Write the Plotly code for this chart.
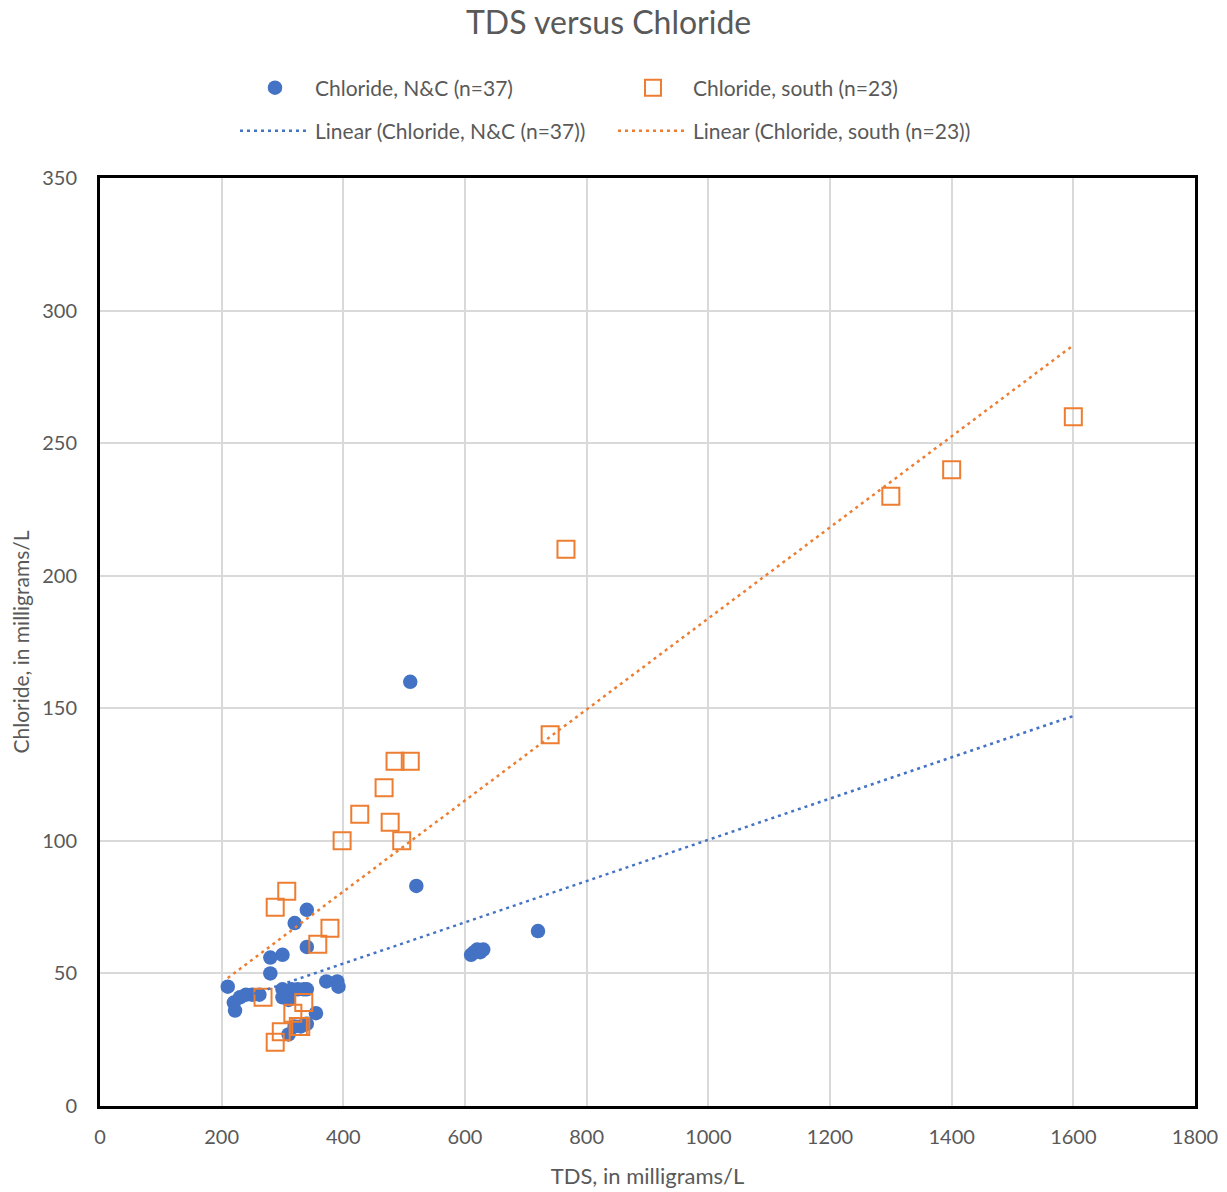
import numpy as np
import plotly.graph_objects as go

# ---- data ----
nc_tds = [510, 520, 720, 610, 615, 620, 625, 630, 340, 320, 340, 280, 300, 280,
          210, 220, 222, 230, 240, 250, 262, 372, 390, 392, 300, 305, 315, 325,
          335, 340, 310, 355, 330, 340, 310, 300, 320]
nc_cl = [160, 83, 66, 57, 58, 59, 58, 59, 74, 69, 60, 56, 57, 50,
         45, 39, 36, 41, 42, 42, 42, 47, 47, 45, 44, 42, 44, 44,
         44, 44, 40, 35, 30, 31, 27, 41, 30]

south_tds = [1600, 1400, 1300, 766, 740, 485, 510, 467, 427, 477, 398, 496,
             307, 288, 378, 358, 268, 335, 317, 326, 298, 288, 330]
south_cl = [260, 240, 230, 210, 140, 130, 130, 120, 110, 107, 100, 100,
            81, 75, 67, 61, 41, 39, 35, 30, 28, 24, 30]

# linear trendline coefficients (slope, intercept)
trend_nc = [0.0778, 22.6]
trend_south = [0.1717, 12.2]

name_nc = "Chloride, N&C (n=37)"
name_south = "Chloride, south (n=23)"
title_text = "TDS versus Chloride"
x_title = "TDS, in milligrams/L"
y_title = "Chloride, in milligrams/L"

BLUE = "#4472C4"
ORANGE = "#ED7D31"
GRAY = "#595959"
FONT = "Lato"

# trendlines drawn across the full data span
all_x = nc_tds + south_tds
x_line = np.array([min(all_x), max(all_x)], dtype=float)

fig = go.Figure()
fig.add_trace(go.Scatter(
    x=nc_tds, y=nc_cl, mode="markers", name=name_nc,
    marker=dict(symbol="circle", size=14.5, color=BLUE), legend="legend"))
fig.add_trace(go.Scatter(
    x=south_tds, y=south_cl, mode="markers", name=name_south,
    marker=dict(symbol="square-open", size=17, color=ORANGE, line=dict(width=2, color=ORANGE)),
    legend="legend"))
fig.add_trace(go.Scatter(
    x=x_line, y=np.polyval(trend_nc, x_line), mode="lines",
    name="Linear (" + name_nc + ")",
    line=dict(color=BLUE, width=2.5, dash="3px,4px"), legend="legend2"))
fig.add_trace(go.Scatter(
    x=x_line, y=np.polyval(trend_south, x_line), mode="lines",
    name="Linear (" + name_south + ")",
    line=dict(color=ORANGE, width=2.5, dash="3px,4px"), legend="legend2"))

legend_common = dict(orientation="h", xref="container", yref="container",
                     x=235 / 1227, xanchor="left", yanchor="middle",
                     itemwidth=70, entrywidth=293, entrywidthmode="pixels",
                     font=dict(size=21, color=GRAY, family=FONT),
                     bgcolor="rgba(0,0,0,0)")

fig.update_layout(
    width=1227, height=1192,
    margin=dict(l=100, r=32, t=178, b=86, autoexpand=False),
    paper_bgcolor="white", plot_bgcolor="white",
    font=dict(family=FONT, color=GRAY, size=20),
    title=dict(text=title_text, x=0.496, xanchor="center", y=1 - 23 / 1192, yanchor="middle",
               font=dict(size=32, color=GRAY, family=FONT)),
    showlegend=True,
    legend=dict(legend_common, y=1 - 88 / 1192),
    legend2=dict(legend_common, y=1 - 131 / 1192),
    xaxis=dict(range=[0, 1800], dtick=200, tick0=0, showgrid=True, gridcolor="#D9D9D9",
               gridwidth=1.5, zeroline=False, showline=True, linecolor="black", linewidth=3,
               mirror=True, ticks="", ticklabelstandoff=11, automargin=False,
               tickfont=dict(size=20, color=GRAY, family=FONT),
               title=dict(text=x_title, font=dict(size=22, color=GRAY, family=FONT), standoff=22)),
    yaxis=dict(range=[0, 350], dtick=50, tick0=0, showgrid=True, gridcolor="#D9D9D9",
               gridwidth=1.5, zeroline=False, showline=True, linecolor="black", linewidth=3,
               mirror=True, ticks="", ticklabelstandoff=16, automargin=False,
               tickfont=dict(size=20, color=GRAY, family=FONT),
               title=dict(text=y_title, font=dict(size=21, color=GRAY, family=FONT), standoff=7)),
)

fig.write_html("out.html")
